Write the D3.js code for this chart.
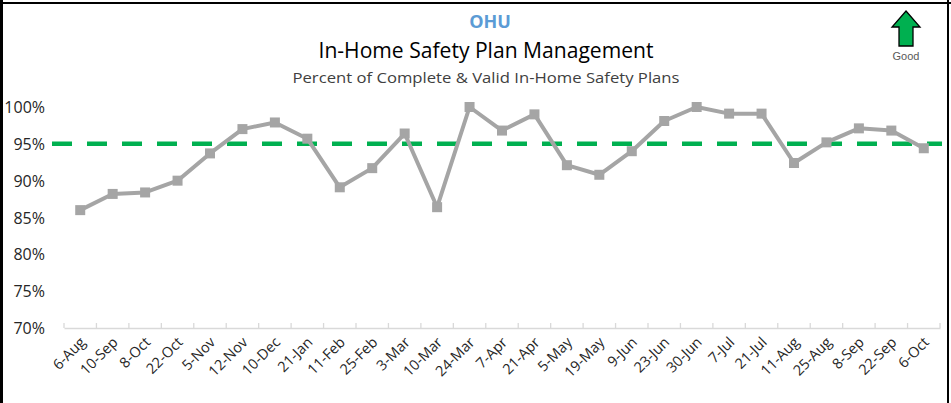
<!DOCTYPE html>
<html>
<head>
<meta charset="utf-8">
<script src="https://cdn.jsdelivr.net/npm/d3@7"></script>
<style>
  body { margin: 0; background: #fff; }
  svg { display: block; }
</style>
</head>
<body>
<div id="chart"></div>
<script>
// biweekly review dates
const dates = ["6-Aug", "10-Sep", "8-Oct", "22-Oct", "5-Nov", "12-Nov", "10-Dec", "21-Jan",
  "11-Feb", "25-Feb", "3-Mar", "10-Mar", "24-Mar", "7-Apr", "21-Apr", "5-May", "19-May",
  "9-Jun", "23-Jun", "30-Jun", "7-Jul", "21-Jul", "11-Aug", "25-Aug", "8-Sep", "22-Sep", "6-Oct"];

// percent complete & valid
const pct = [86.0, 88.2, 88.4, 90.0, 93.7, 97.0, 97.9, 95.7, 89.1, 91.7, 96.4, 86.4, 100.0,
  96.8, 99.0, 92.1, 90.8, 94.0, 98.1, 100.0, 99.1, 99.1, 92.4, 95.2, 97.1, 96.8, 94.4];

const target = 95;
const yTicks = [70, 75, 80, 85, 90, 95, 100];

(function () {
  let width = 951,
    height = 403,
    left = 64,
    right = 940,
    top = 107,
    bottom = 328;

  let svg = d3.select("#chart")
    .append("svg")
    .attr("width", width)
    .attr("height", height);

  let x = d3.scaleBand().domain(dates).range([left, right]);
  let y = d3.scaleLinear().domain([70, 100]).range([bottom, top]);

  // frame
  svg.append("line").attr("x1", 1.5).attr("x2", 1.5).attr("y1", 0).attr("y2", height)
    .attr("stroke", "#000").attr("stroke-width", 3);
  svg.append("line").attr("x1", 0).attr("x2", width).attr("y1", 3).attr("y2", 3)
    .attr("stroke", "#000").attr("stroke-width", 2);
  svg.append("line").attr("x1", 948).attr("x2", 948).attr("y1", 0).attr("y2", height)
    .attr("stroke", "#000").attr("stroke-width", 2);

  // titles
  const font = "'Open Sans', sans-serif";
  svg.append("text").attr("x", 490).attr("y", 28).attr("text-anchor", "middle")
    .style("font", `bold 18px ${font}`).attr("fill", "#5b9bd5").text("OHU");
  svg.append("text").attr("x", 486).attr("y", 58).attr("text-anchor", "middle")
    .style("font", `21px ${font}`).attr("fill", "#000")
    .attr("textLength", 335).attr("lengthAdjust", "spacingAndGlyphs")
    .text("In-Home Safety Plan Management");
  svg.append("text").attr("x", 486).attr("y", 83).attr("text-anchor", "middle")
    .style("font", `15px ${font}`).attr("fill", "#404040")
    .attr("textLength", 387).attr("lengthAdjust", "spacingAndGlyphs")
    .text("Percent of Complete & Valid In-Home Safety Plans");

  // good arrow
  svg.append("path")
    .attr("d", "M906,11 L920,27 L913,27 L913,46 L899,46 L899,27 L892,27 Z")
    .attr("fill", "#00b050").attr("stroke", "#000").attr("stroke-width", 1.3)
    .attr("stroke-linejoin", "miter");
  svg.append("text").attr("x", 906).attr("y", 60).attr("text-anchor", "middle")
    .style("font", "11px 'Liberation Sans', Arial, sans-serif").attr("fill", "#595959").text("Good");

  // y axis labels
  svg.append("g")
    .selectAll("text")
    .data(yTicks)
    .enter()
    .append("text")
    .attr("x", 45)
    .attr("y", d => y(d) + 6)
    .attr("text-anchor", "end")
    .style("font", `16px ${font}`)
    .attr("fill", "#262626")
    .text(d => d + "%");

  // x axis
  let xAxis = svg.append("g")
    .attr("transform", `translate(0,${bottom})`)
    .call(d3.axisBottom(x).tickSize(0).tickPadding(0));
  xAxis.select(".domain").attr("stroke", "#d9d9d9").attr("stroke-width", 1.3);
  xAxis.selectAll(".tick text").remove();

  let edges = d3.range(dates.length + 1).map(i => left + i * x.bandwidth());
  xAxis.selectAll(".edge")
    .data(edges)
    .enter()
    .append("line")
    .attr("class", "edge")
    .attr("x1", d => d).attr("x2", d => d)
    .attr("y1", 0).attr("y2", -5)
    .attr("stroke", "#d9d9d9").attr("stroke-width", 1.3);

  svg.append("g")
    .selectAll("text")
    .data(dates)
    .enter()
    .append("text")
    .attr("transform", d => `translate(${x(d) + x.bandwidth() / 2 - 1},${bottom + 8}) rotate(-45)`)
    .attr("text-anchor", "end")
    .attr("dy", "0.7em")
    .style("font", `14.5px ${font}`)
    .attr("fill", "#262626")
    .text(d => d);

  // target line
  svg.append("line")
    .attr("x1", 52).attr("x2", 942)
    .attr("y1", y(target)).attr("y2", y(target))
    .attr("stroke", "#00b050").attr("stroke-width", 4.5)
    .attr("stroke-dasharray", "20,15");

  // series
  let cx = (d, i) => x(dates[i]) + x.bandwidth() / 2;
  svg.append("path")
    .datum(pct)
    .attr("fill", "none")
    .attr("stroke", "#a5a5a5")
    .attr("stroke-width", 4)
    .attr("stroke-linejoin", "round")
    .attr("d", d3.line().x(cx).y(d => y(d)));

  svg.append("g")
    .selectAll("rect")
    .data(pct)
    .enter()
    .append("rect")
    .attr("x", (d, i) => cx(d, i) - 5)
    .attr("y", d => y(d) - 5)
    .attr("width", 10)
    .attr("height", 10)
    .attr("fill", "#a5a5a5");
})();
</script>
</body>
</html>
